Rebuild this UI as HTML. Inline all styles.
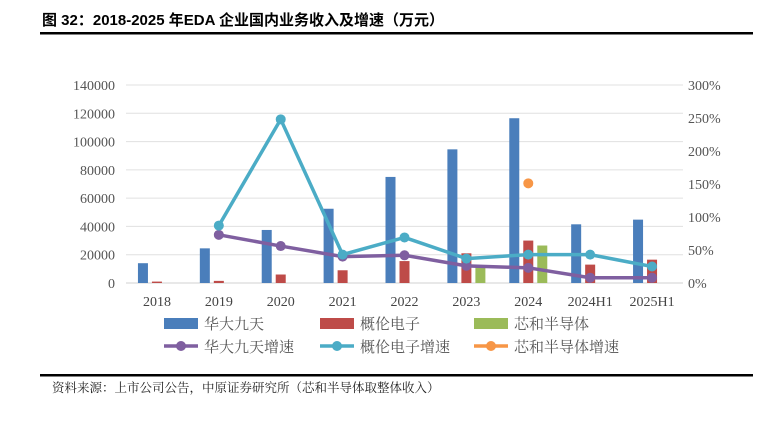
<!DOCTYPE html>
<html><head><meta charset="utf-8">
<style>
body{margin:0;background:#fff;width:784px;height:416px;overflow:hidden;font-family:"Liberation Serif","Noto Serif CJK SC",serif;}
svg text{font-family:"Liberation Serif","Noto Serif CJK SC",serif;}
</style></head>
<body>
<svg id="c" width="784" height="416">
<text x="42" y="25" font-size="15" font-weight="bold" fill="#000" style="font-family:'Liberation Sans','Noto Sans CJK SC',sans-serif">图 32：2018-2025 年EDA 企业国内业务收入及增速（万元）</text>
<rect x="40" y="32" width="713" height="2.5" fill="#000"/>
<rect x="40" y="374" width="713" height="2.5" fill="#000"/>
<text x="52" y="392" font-size="12.5" fill="#222">资料来源：上市公司公告，中原证券研究所（芯和半导体取整体收入）</text>
<g id="grid"></g><g id="bars"></g><g id="lines"></g><g id="axes"></g><g id="legend"></g>
</svg>
<script>
const categories=["2018","2019","2020","2021","2022","2023","2024","2024H1","2025H1"];
const hdjt=[14000,24500,37500,52500,75000,94500,116500,41500,44800];
const glez=[1000,1500,6000,9000,15500,21000,30000,13000,16500];
const xhbdt=[null,null,null,null,null,12000,26500,null,null];
const hdjtG=[null,73,56,40,42,26,23,8,8];
const glezG=[null,87,248,43,69,37,43,43,25];
const xhbdtG=[null,null,null,null,null,null,151,null,null];
const leftTicks=[0,20000,40000,60000,80000,100000,120000,140000];
const rightTicks=[0,50,100,150,200,250,300];
const NS="http://www.w3.org/2000/svg";
const X0=126,X1=683,Y0=283,Y1=85;
const band=(X1-X0)/categories.length;
const xc=i=>X0+band*(i+0.5);
const yL=v=>Y0-(v/140000)*(Y0-Y1);
const yR=v=>Y0-(v/300)*(Y0-Y1);
function mk(t,a,p){const e=document.createElementNS(NS,t);for(const k in a)e.setAttribute(k,a[k]);p.appendChild(e);return e;}
const grid=document.getElementById('grid'),axes=document.getElementById('axes'),bars=document.getElementById('bars'),lines=document.getElementById('lines'),leg=document.getElementById('legend');
leftTicks.forEach(v=>{
 const l=mk('line',{x1:X0,x2:X1,y1:yL(v),y2:yL(v),stroke:v?'#e0e0e0':'#d0d0d0','stroke-width':1},grid);
 
 
 const t=mk('text',{x:115,y:yL(v)+5,'text-anchor':'end','font-size':14,fill:'#555'},axes);t.textContent=v;
 
 
});
rightTicks.forEach(v=>{
 const t=mk('text',{x:688,y:yR(v)+5,'font-size':14,fill:'#555'},axes);t.textContent=v+'%';
 
 
});
categories.forEach((c,i)=>{
 const t=mk('text',{x:xc(i),y:306,'text-anchor':'middle','font-size':14,fill:'#444'},axes);t.textContent=c;
 
 
});
const series=[[hdjt,'#4a7ebb',-14,'bar-huada'],[glez,'#be4b48',0,'bar-gailun'],[xhbdt,'#9bbb59',14,'bar-xinhe']];
series.forEach(([arr,col,off,nm])=>arr.forEach((v,i)=>{
 if(v==null)return;
 const r=mk('rect',{x:xc(i)+off-5,y:yL(v),width:10,height:Y0-yL(v),fill:col},bars);
 
 
}));
const ls=[[hdjtG,'#7f5fa0','line-huada-growth'],[glezG,'#4bacc6','line-gailun-growth'],[xhbdtG,'#f79646','line-xinhe-growth']];
ls.forEach(([arr,col,nm])=>{
 let d='';arr.forEach((v,i)=>{if(v==null)return;d+=(d?'L':'M')+xc(i)+','+yR(v);});
 const p=mk('path',{d:d,fill:'none',stroke:col,'stroke-width':3.5,'stroke-linejoin':'round'},lines);
 
 
 arr.forEach((v,i)=>{if(v==null)return;
  const c=mk('circle',{cx:xc(i),cy:yR(v),r:5,fill:col},lines);
  
  
 });
});
const legItems=[[164,323,'#4a7ebb','华大九天',0],[320,323,'#be4b48','概伦电子',0],[474,323,'#9bbb59','芯和半导体',0],[164,346,'#7f5fa0','华大九天增速',1],[320,346,'#4bacc6','概伦电子增速',1],[474,346,'#f79646','芯和半导体增速',1]];
legItems.forEach(([x,y,col,txt,isLine])=>{
 const g=mk('g',{},leg);
 
 
 if(isLine){mk('line',{x1:x,x2:x+34,y1:y,y2:y,stroke:col,'stroke-width':3.5},g);mk('circle',{cx:x+17,cy:y,r:5,fill:col},g);}
 else mk('rect',{x:x,y:y-5,width:34,height:11,fill:col},g);
 const t=mk('text',{x:x+40,y:y+6,'font-size':15,fill:'#555'},g);t.textContent=txt;
});
</script>
</body></html>
